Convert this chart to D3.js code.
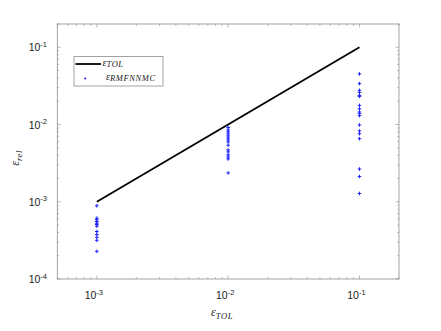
<!DOCTYPE html>
<html><head><meta charset="utf-8">
<script src="https://cdn.jsdelivr.net/npm/d3@7"></script>
<style>body{margin:0;background:#fff}svg{display:block}</style>
</head><body><svg id="c" width="441" height="331"></svg>
<script>
const tolLine = [1e-3, 1e-1];
const xTicks = [1e-3, 1e-2, 1e-1];
const xTickLabels = ["-3", "-2", "-1"];
const yTicks = [1e-4, 1e-3, 1e-2, 1e-1];
const yTickLabels = ["-4", "-3", "-2", "-1"];
const errAt1e3 = [8.87e-4, 6.13e-4, 5.85e-4, 5.55e-4, 5.27e-4, 5.08e-4, 4.83e-4, 4.12e-4, 3.77e-4, 3.47e-4, 3.17e-4, 2.28e-4];
const errAt1e2 = [9.14e-3, 8.51e-3, 8.02e-3, 7.55e-3, 7.11e-3, 6.70e-3, 6.31e-3, 5.94e-3, 5.39e-3, 4.69e-3, 4.42e-3, 4.04e-3, 3.80e-3, 3.58e-3, 2.36e-3];
const errAt1e1 = [4.52e-2, 3.38e-2, 2.77e-2, 2.61e-2, 2.38e-2, 2.31e-2, 1.77e-2, 1.59e-2, 1.45e-2, 1.38e-2, 1.30e-2, 9.86e-3, 8.24e-3, 7.60e-3, 6.55e-3, 2.65e-3, 2.12e-3, 1.28e-3];

const svg = d3.select("#c");
const L = 57.3, R = 399, T = 24, B = 279;
const x = d3.scaleLog().domain([5e-4, 2e-1]).range([L, R]);
const y = d3.scaleLog().domain([1e-4, 2e-1]).range([B, T]);
const axisCol = "#8c8c8c", textCol = "#1a1a1a";

function minors(dom) {
  const out = [];
  for (let e = -5; e <= 0; e++) for (let m = 1; m <= 9; m++) {
    const v = m * Math.pow(10, e);
    if (v >= dom[0] * 0.9999 && v <= dom[1] * 1.0001) out.push({v, major: m === 1});
  }
  return out;
}
const g = svg.append("g");
minors(x.domain()).forEach(t => {
  const len = t.major ? 3.4 : 1.8, px = x(t.v);
  g.append("line").attr("x1", px).attr("x2", px).attr("y1", B).attr("y2", B - len).attr("stroke", axisCol).attr("stroke-width", 0.6);
  g.append("line").attr("x1", px).attr("x2", px).attr("y1", T).attr("y2", T + len).attr("stroke", axisCol).attr("stroke-width", 0.6);
});
minors(y.domain()).forEach(t => {
  const len = t.major ? 3.4 : 1.8, py = y(t.v);
  g.append("line").attr("x1", L).attr("x2", L + len).attr("y1", py).attr("y2", py).attr("stroke", axisCol).attr("stroke-width", 0.6);
  g.append("line").attr("x1", R).attr("x2", R - len).attr("y1", py).attr("y2", py).attr("stroke", axisCol).attr("stroke-width", 0.6);
});
svg.append("rect").attr("x", L).attr("y", T).attr("width", R - L).attr("height", B - T)
  .attr("fill", "none").attr("stroke", axisCol).attr("stroke-width", 0.8);

const lf = "Liberation Sans, Arial, sans-serif";
xTicks.forEach((v, i) => {
  const t = svg.append("text").attr("x", x(v) - 3).attr("y", 299).attr("text-anchor", "middle")
    .attr("font-family", lf).attr("font-size", 10.5).attr("fill", textCol);
  t.append("tspan").text("10");
  t.append("tspan").attr("dy", -4.5).attr("font-size", 7.5).text(xTickLabels[i]);
});
yTicks.forEach((v, i) => {
  const t = svg.append("text").attr("x", 47).attr("y", y(v) + 4).attr("text-anchor", "end")
    .attr("font-family", lf).attr("font-size", 10.5).attr("fill", textCol);
  t.append("tspan").text("10");
  t.append("tspan").attr("dy", -4.5).attr("font-size", 7.5).text(yTickLabels[i]);
});

const sf = "Liberation Serif, DejaVu Serif, serif";
const xl = svg.append("text").attr("x", 222).attr("y", 316).attr("text-anchor", "middle")
  .attr("font-family", sf).attr("font-style", "italic").attr("font-size", 12).attr("fill", textCol);
xl.append("tspan").text("ε");
xl.append("tspan").attr("dy", 2.5).attr("font-size", 8.5).attr("letter-spacing", 0.6).text("TOL");
const yl = svg.append("text").attr("transform", "translate(19,158) rotate(-90)").attr("text-anchor", "middle")
  .attr("font-family", sf).attr("font-style", "italic").attr("font-size", 12).attr("fill", textCol);
yl.append("tspan").text("ε");
yl.append("tspan").attr("dy", 2.5).attr("font-size", 9).attr("letter-spacing", 0.4).text("rel");

svg.append("path").datum(tolLine)
  .attr("d", d3.line().x(d => x(d)).y(d => y(d)))
  .attr("stroke", "#000").attr("stroke-width", 1.8).attr("fill", "none");

const pts = [].concat(
  errAt1e3.map(v => [1e-3, v]), errAt1e2.map(v => [1e-2, v]), errAt1e1.map(v => [1e-1, v]));
const s = 1.8;
svg.append("g").selectAll("path").data(pts).join("path")
  .attr("d", d => `M${x(d[0]) - s},${y(d[1])}H${x(d[0]) + s}M${x(d[0])},${y(d[1]) - s}V${y(d[1]) + s}`)
  .attr("stroke", "#1f1fff").attr("stroke-width", 1).attr("fill", "none");

const lg = svg.append("g");
lg.append("rect").attr("x", 74).attr("y", 56.5).attr("width", 89).attr("height", 29.5)
  .attr("fill", "#fff").attr("stroke", axisCol).attr("stroke-width", 0.8);
lg.append("line").attr("x1", 75.5).attr("x2", 101).attr("y1", 64).attr("y2", 64).attr("stroke", "#000").attr("stroke-width", 1.8);
const t1 = lg.append("text").attr("x", 102.5).attr("y", 65.5).attr("font-family", sf).attr("font-style", "italic").attr("font-size", 10).attr("fill", textCol);
t1.append("tspan").text("ε");
t1.append("tspan").attr("dy", 1.5).attr("font-size", 8.5).attr("letter-spacing", 0.6).text("TOL");
lg.append("path").attr("d", "M84.3,78.5H86.3M85.3,77.5V79.5").attr("stroke", "#1f1fff").attr("stroke-width", 1);
const t2 = lg.append("text").attr("x", 106).attr("y", 79.5).attr("font-family", sf).attr("font-style", "italic").attr("font-size", 10).attr("fill", textCol);
t2.append("tspan").text("ε");
t2.append("tspan").attr("dy", 1.5).attr("font-size", 8.5).attr("letter-spacing", 0.6).text("RMFNNMC");
</script></body></html>
